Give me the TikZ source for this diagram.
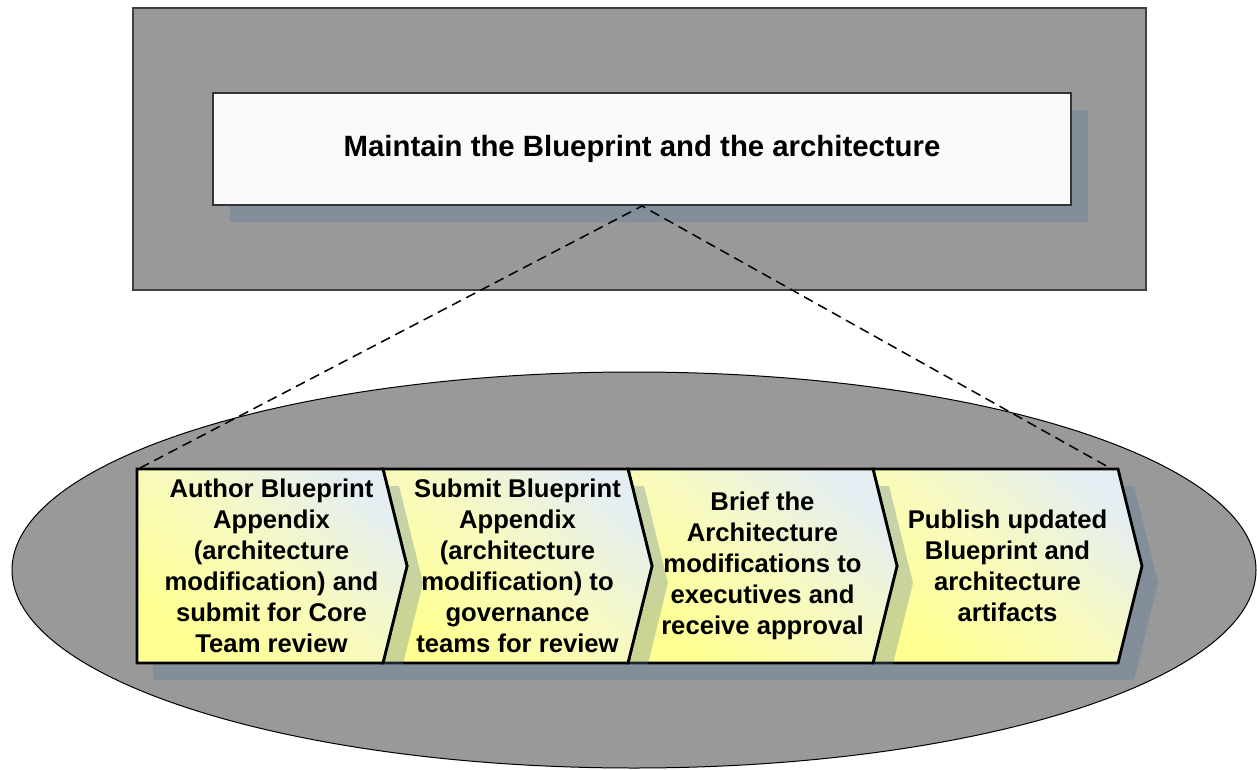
\documentclass[tikz,border=0pt]{standalone}
\usepackage{fontspec}
\setmainfont{Liberation Sans}

\newlength{\du}
\setlength{\du}{0.02cm}

\definecolor{outergray}{RGB}{153,153,153}
\definecolor{shadowblue}{RGB}{80,117,153}
\definecolor{chevyellow}{RGB}{255,255,145}
\definecolor{chevmid}{RGB}{248,250,190}
\definecolor{chevlight}{RGB}{228,238,242}

\tikzset{
  panel/.style={fill=outergray, draw=black!75, line width=1.2\du},
  dropshadow/.style={fill=shadowblue, fill opacity=0.3, draw=none},
  titlebox/.style={draw=black!80, fill=white!98!black, line width=2\du,
    minimum width=858\du, minimum height=112\du, inner sep=0pt,
    font=\fontsize{16.7}{20}\selectfont\bfseries},
  chevron/.style={draw=black, line width=2.8\du, line join=miter,
    top color=chevlight, bottom color=chevyellow, middle color=chevmid, shading angle=-40},
  chevtext/.style={align=center, inner sep=0pt,
    font=\fontsize{14.6}{17.6}\selectfont\bfseries},
  zoomline/.style={dash pattern=on 10\du off 6\du, line width=1.5\du, draw=black},
}

\begin{document}
\begin{tikzpicture}
\pgftransformxscale{1.000000}
\pgftransformyscale{-1.000000}
\useasboundingbox (0\du,0\du) rectangle (1257\du,770\du);
% top panel
\draw[panel] (133\du,8\du) rectangle (1146\du,290\du);
\fill[dropshadow] (230\du,110\du) rectangle (1088\du,222\du);
\node[titlebox] (maintain) at (642\du,149\du){Maintain the Blueprint and the architecture};
% lower panel
\draw[fill=outergray, draw=black, line width=1\du] (634\du,570\du) ellipse [x radius=622\du, y radius=198\du];
\coordinate (leftend) at (140\du,468\du);
\coordinate (rightend) at (1110\du,468\du);
\draw[zoomline] (leftend)--(maintain.south)--(rightend);
% chevrons, back to front
\fill[dropshadow] (889\du,486\du)--(1134\du,486\du)--(1158\du,583\du)--(1134\du,680\du)--(889\du,680\du)--(913\du,583\du)--cycle;
\shade[chevron] (873\du,469\du)--(1118\du,469\du)--(1142\du,566\du)--(1118\du,663\du)--(873\du,663\du)--(897\du,566\du)--cycle;
\fill[dropshadow] (644\du,486\du)--(889\du,486\du)--(913\du,583\du)--(889\du,680\du)--(644\du,680\du)--(668\du,583\du)--cycle;
\shade[chevron] (628\du,469\du)--(873\du,469\du)--(897\du,566\du)--(873\du,663\du)--(628\du,663\du)--(652\du,566\du)--cycle;
\fill[dropshadow] (399\du,486\du)--(644\du,486\du)--(668\du,583\du)--(644\du,680\du)--(399\du,680\du)--(423\du,583\du)--cycle;
\shade[chevron] (383\du,469\du)--(628\du,469\du)--(652\du,566\du)--(628\du,663\du)--(383\du,663\du)--(407\du,566\du)--cycle;
\fill[dropshadow] (153\du,486\du)--(399\du,486\du)--(423\du,583\du)--(399\du,680\du)--(153\du,680\du)--cycle;
\shade[chevron] (137\du,469\du)--(383\du,469\du)--(407\du,566\du)--(383\du,663\du)--(137\du,663\du)--cycle;
% step texts
\node[chevtext] (author) at (271.5\du,566\du){Author Blueprint\\Appendix\\(architecture\\modification) and\\submit for Core\\Team review};
\node[chevtext] (submit) at (517.5\du,566\du){Submit Blueprint\\Appendix\\(architecture\\modification) to\\governance\\teams for review};
\node[chevtext] (brief) at (762.5\du,566\du){Brief the\\Architecture\\modifications to\\executives and\\receive approval};
\node[chevtext] (publish) at (1007.5\du,566\du){Publish updated\\Blueprint and\\architecture\\artifacts};
\end{tikzpicture}
\end{document}
